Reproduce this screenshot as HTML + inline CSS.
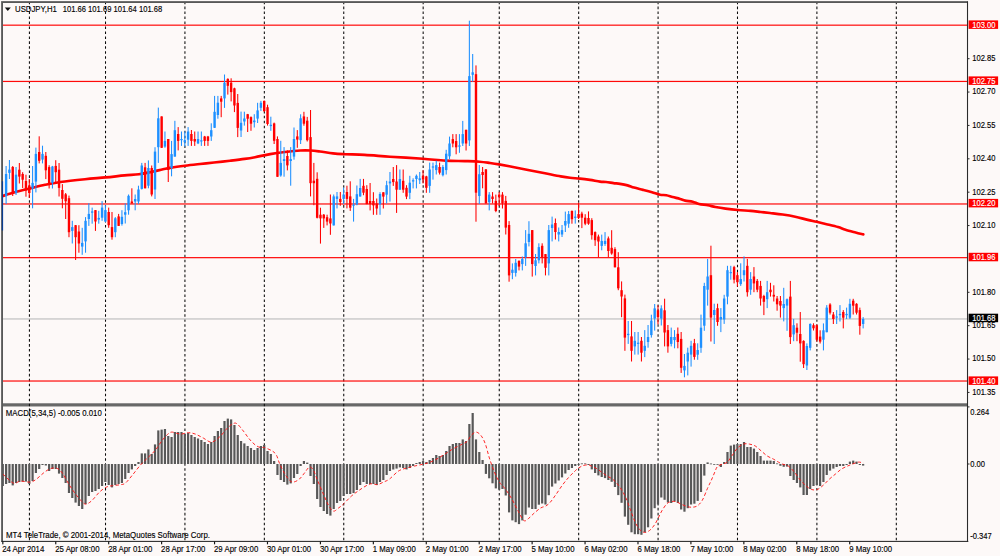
<!DOCTYPE html>
<html><head><meta charset="utf-8"><title>USDJPY,H1</title>
<style>html,body{margin:0;padding:0;background:#fdf9f8;}body{width:1000px;height:556px;overflow:hidden;}svg{display:block;}text{font-family:"Liberation Sans",sans-serif;font-size:7.6px;fill:#000;stroke:#000;stroke-width:0.12px;}</style></head><body>
<svg width="1000" height="556" viewBox="0 0 1000 556">
<rect x="0" y="0" width="1000" height="556" fill="#fdf9f8"/>
<rect x="1.6" y="403.15" width="966" height="3.45" fill="#868686"/>
<rect x="1.6" y="403.9" width="966" height="2.0" fill="#676767"/>
<g stroke="#0a0a0a" stroke-width="1.05" stroke-dasharray="2.55 2.413" stroke-dashoffset="1.06" fill="none">
<line x1="29.42" y1="2.7" x2="29.42" y2="540.5" />
<line x1="105.52" y1="2.7" x2="105.52" y2="540.5" />
<line x1="184.93" y1="2.7" x2="184.93" y2="540.5" />
<line x1="264.34" y1="2.7" x2="264.34" y2="540.5" />
<line x1="343.75" y1="2.7" x2="343.75" y2="540.5" />
<line x1="423.16" y1="2.7" x2="423.16" y2="540.5" />
<line x1="499.26" y1="2.7" x2="499.26" y2="540.5" />
<line x1="578.67" y1="2.7" x2="578.67" y2="540.5" />
<line x1="658.08" y1="2.7" x2="658.08" y2="540.5" />
<line x1="737.49" y1="2.7" x2="737.49" y2="540.5" />
<line x1="816.90" y1="2.7" x2="816.90" y2="540.5" />
<line x1="896.31" y1="2.7" x2="896.31" y2="540.5" />
</g>
<rect x="2" y="318.35" width="965.5" height="1.2" fill="#c0c0c0"/>
<rect x="2" y="24.57" width="965.5" height="1.2" fill="#ff0a0a"/>
<rect x="2" y="80.84" width="965.5" height="1.2" fill="#ff0a0a"/>
<rect x="2" y="203.37" width="965.5" height="1.2" fill="#ff0a0a"/>
<rect x="2" y="257.06" width="965.5" height="1.2" fill="#ff0a0a"/>
<rect x="2" y="380.42" width="965.5" height="1.2" fill="#ff0a0a"/>
<path d="M2.50 196.00 C4.58 195.38 10.38 193.57 15.00 192.30 C19.62 191.03 25.20 189.65 30.20 188.40 C35.20 187.15 39.97 185.87 45.00 184.80 C50.03 183.73 53.73 182.93 60.40 182.00 C67.07 181.07 77.45 179.97 85.00 179.20 C92.55 178.43 99.10 178.03 105.70 177.40 C112.30 176.77 119.05 175.93 124.60 175.40 C130.15 174.87 134.60 174.77 139.00 174.20 C143.40 173.63 147.00 172.82 151.00 172.00 C155.00 171.18 159.63 170.03 163.00 169.30 C166.37 168.57 167.53 168.20 171.20 167.60 C174.87 167.00 180.20 166.30 185.00 165.70 C189.80 165.10 195.17 164.53 200.00 164.00 C204.83 163.47 209.00 163.05 214.00 162.50 C219.00 161.95 224.90 161.30 230.00 160.70 C235.10 160.10 240.43 159.48 244.60 158.90 C248.77 158.32 250.73 158.00 255.00 157.20 C259.27 156.40 265.20 154.97 270.20 154.10 C275.20 153.23 279.97 152.60 285.00 152.00 C290.03 151.40 296.15 150.75 300.40 150.50 C304.65 150.25 307.23 150.33 310.50 150.50 C313.77 150.67 316.25 151.02 320.00 151.50 C323.75 151.98 328.83 152.95 333.00 153.40 C337.17 153.85 339.73 153.95 345.00 154.20 C350.27 154.45 357.10 154.48 364.60 154.90 C372.10 155.32 380.27 156.05 390.00 156.70 C399.73 157.35 413.73 158.15 423.00 158.80 C432.27 159.45 438.60 160.22 445.60 160.60 C452.60 160.98 459.33 160.92 465.00 161.10 C470.67 161.28 475.43 161.38 479.60 161.70 C483.77 162.02 486.77 162.55 490.00 163.00 C493.23 163.45 495.17 163.73 499.00 164.40 C502.83 165.07 508.17 166.07 513.00 167.00 C517.83 167.93 522.67 168.95 528.00 170.00 C533.33 171.05 539.55 172.23 545.00 173.30 C550.45 174.37 556.53 175.65 560.70 176.40 C564.87 177.15 566.78 177.43 570.00 177.80 C573.22 178.17 576.67 178.25 580.00 178.60 C583.33 178.95 586.67 179.40 590.00 179.90 C593.33 180.40 597.33 181.25 600.00 181.60 C602.67 181.95 603.75 181.75 606.00 182.00 C608.25 182.25 611.17 182.78 613.50 183.10 C615.83 183.42 617.67 183.52 620.00 183.90 C622.33 184.28 625.17 184.78 627.50 185.40 C629.83 186.02 631.42 186.85 634.00 187.60 C636.58 188.35 640.00 189.12 643.00 189.90 C646.00 190.68 649.17 191.50 652.00 192.30 C654.83 193.10 657.62 194.22 660.00 194.70 C662.38 195.18 664.20 194.82 666.30 195.20 C668.40 195.58 670.30 196.38 672.60 197.00 C674.90 197.62 678.00 198.30 680.10 198.90 C682.20 199.50 683.10 200.13 685.20 200.60 C687.30 201.07 690.40 201.13 692.70 201.70 C695.00 202.27 696.48 203.40 699.00 204.00 C701.52 204.60 705.07 204.80 707.80 205.30 C710.53 205.80 712.45 206.45 715.40 207.00 C718.35 207.55 721.73 208.10 725.50 208.60 C729.27 209.10 733.82 209.62 738.00 210.00 C742.18 210.38 746.82 210.57 750.60 210.90 C754.38 211.23 757.47 211.65 760.70 212.00 C763.93 212.35 766.35 212.58 770.00 213.00 C773.65 213.42 778.40 213.88 782.60 214.50 C786.80 215.12 791.00 215.80 795.20 216.70 C799.40 217.60 804.23 219.05 807.80 219.90 C811.37 220.75 813.47 221.08 816.60 221.80 C819.73 222.52 823.03 223.32 826.60 224.20 C830.17 225.08 834.85 226.17 838.00 227.10 C841.15 228.03 842.57 228.90 845.50 229.80 C848.43 230.70 852.63 231.73 855.60 232.50 C858.57 233.27 862.02 234.08 863.30 234.40" fill="none" stroke="#ff0000" stroke-width="2.65" stroke-linejoin="round" stroke-linecap="round"/>
<g>
<rect x="5.58" y="166.0" width="1.05" height="38.0" fill="#1e90ff"/>
<rect x="4.91" y="174.0" width="2.4" height="22.0" fill="#1e90ff"/>
<rect x="8.89" y="160.0" width="1.05" height="19.0" fill="#1e90ff"/>
<rect x="8.22" y="169.6" width="2.4" height="3.3" fill="#1e90ff"/>
<rect x="12.20" y="166.0" width="1.05" height="30.0" fill="#ff0000"/>
<rect x="11.53" y="167.0" width="2.4" height="27.0" fill="#ff0000"/>
<rect x="15.51" y="167.0" width="1.05" height="28.0" fill="#1e90ff"/>
<rect x="14.84" y="174.7" width="2.4" height="18.3" fill="#1e90ff"/>
<rect x="18.82" y="163.0" width="1.05" height="20.5" fill="#ff0000"/>
<rect x="18.15" y="169.7" width="2.4" height="6.9" fill="#ff0000"/>
<rect x="22.13" y="172.2" width="1.05" height="15.8" fill="#ff0000"/>
<rect x="21.45" y="174.0" width="2.4" height="5.7" fill="#ff0000"/>
<rect x="25.44" y="174.7" width="1.05" height="22.0" fill="#ff0000"/>
<rect x="24.76" y="181.0" width="2.4" height="9.4" fill="#ff0000"/>
<rect x="28.75" y="179.0" width="1.05" height="19.0" fill="#ff0000"/>
<rect x="28.07" y="185.4" width="2.4" height="7.6" fill="#ff0000"/>
<rect x="32.06" y="166.0" width="1.05" height="42.3" fill="#1e90ff"/>
<rect x="31.38" y="182.9" width="2.4" height="5.6" fill="#1e90ff"/>
<rect x="35.37" y="147.6" width="1.05" height="44.8" fill="#1e90ff"/>
<rect x="34.69" y="153.9" width="2.4" height="27.7" fill="#1e90ff"/>
<rect x="38.67" y="136.3" width="1.05" height="27.1" fill="#ff0000"/>
<rect x="38.00" y="152.0" width="2.4" height="8.8" fill="#ff0000"/>
<rect x="41.98" y="145.7" width="1.05" height="17.7" fill="#1e90ff"/>
<rect x="41.31" y="153.9" width="2.4" height="5.7" fill="#1e90ff"/>
<rect x="45.29" y="152.0" width="1.05" height="27.1" fill="#ff0000"/>
<rect x="44.62" y="155.8" width="2.4" height="14.5" fill="#ff0000"/>
<rect x="48.60" y="165.2" width="1.05" height="23.3" fill="#ff0000"/>
<rect x="47.93" y="167.1" width="2.4" height="17.0" fill="#ff0000"/>
<rect x="51.91" y="165.9" width="1.05" height="22.6" fill="#1e90ff"/>
<rect x="51.23" y="166.5" width="2.4" height="16.4" fill="#1e90ff"/>
<rect x="55.22" y="160.2" width="1.05" height="22.7" fill="#ff0000"/>
<rect x="54.54" y="165.9" width="2.4" height="6.3" fill="#ff0000"/>
<rect x="58.53" y="163.0" width="1.05" height="33.5" fill="#ff0000"/>
<rect x="57.85" y="169.7" width="2.4" height="18.2" fill="#ff0000"/>
<rect x="61.84" y="184.1" width="1.05" height="24.2" fill="#ff0000"/>
<rect x="61.16" y="190.0" width="2.4" height="8.8" fill="#ff0000"/>
<rect x="65.15" y="193.0" width="1.05" height="26.0" fill="#ff0000"/>
<rect x="64.47" y="194.3" width="2.4" height="7.0" fill="#ff0000"/>
<rect x="68.45" y="195.6" width="1.05" height="41.6" fill="#ff0000"/>
<rect x="67.78" y="198.2" width="2.4" height="34.0" fill="#ff0000"/>
<rect x="71.76" y="220.8" width="1.05" height="22.7" fill="#1e90ff"/>
<rect x="71.09" y="227.1" width="2.4" height="3.8" fill="#1e90ff"/>
<rect x="75.07" y="225.0" width="1.05" height="35.0" fill="#ff0000"/>
<rect x="74.40" y="225.2" width="2.4" height="12.0" fill="#ff0000"/>
<rect x="78.38" y="225.2" width="1.05" height="27.5" fill="#ff0000"/>
<rect x="77.71" y="231.5" width="2.4" height="12.0" fill="#ff0000"/>
<rect x="81.69" y="227.8" width="1.05" height="27.0" fill="#1e90ff"/>
<rect x="81.02" y="242.9" width="2.4" height="3.7" fill="#1e90ff"/>
<rect x="85.00" y="217.1" width="1.05" height="35.6" fill="#1e90ff"/>
<rect x="84.33" y="220.8" width="2.4" height="20.6" fill="#1e90ff"/>
<rect x="88.31" y="203.2" width="1.05" height="22.7" fill="#1e90ff"/>
<rect x="87.63" y="213.9" width="2.4" height="5.1" fill="#1e90ff"/>
<rect x="91.62" y="207.6" width="1.05" height="16.1" fill="#1e90ff"/>
<rect x="90.94" y="211.4" width="2.4" height="1.3" fill="#1e90ff"/>
<rect x="94.93" y="210.1" width="1.05" height="20.8" fill="#ff0000"/>
<rect x="94.25" y="210.1" width="2.4" height="11.4" fill="#ff0000"/>
<rect x="98.24" y="210.8" width="1.05" height="12.9" fill="#1e90ff"/>
<rect x="97.56" y="217.9" width="2.4" height="1.7" fill="#1e90ff"/>
<rect x="101.55" y="201.1" width="1.05" height="19.7" fill="#1e90ff"/>
<rect x="100.87" y="207.6" width="2.4" height="10.1" fill="#1e90ff"/>
<rect x="104.85" y="205.1" width="1.05" height="17.0" fill="#1e90ff"/>
<rect x="104.18" y="210.1" width="2.4" height="11.4" fill="#1e90ff"/>
<rect x="108.16" y="207.6" width="1.05" height="20.2" fill="#ff0000"/>
<rect x="107.49" y="212.0" width="2.4" height="13.2" fill="#ff0000"/>
<rect x="111.47" y="212.0" width="1.05" height="27.7" fill="#ff0000"/>
<rect x="110.80" y="227.1" width="2.4" height="10.1" fill="#ff0000"/>
<rect x="114.78" y="217.1" width="1.05" height="20.1" fill="#1e90ff"/>
<rect x="114.11" y="218.3" width="2.4" height="13.9" fill="#1e90ff"/>
<rect x="118.09" y="213.9" width="1.05" height="12.1" fill="#ff0000"/>
<rect x="117.42" y="216.4" width="2.4" height="9.5" fill="#ff0000"/>
<rect x="121.40" y="210.2" width="1.05" height="15.4" fill="#1e90ff"/>
<rect x="120.72" y="216.8" width="2.4" height="7.2" fill="#1e90ff"/>
<rect x="124.71" y="203.4" width="1.05" height="20.1" fill="#1e90ff"/>
<rect x="124.03" y="212.2" width="2.4" height="2.5" fill="#1e90ff"/>
<rect x="128.02" y="194.5" width="1.05" height="20.2" fill="#1e90ff"/>
<rect x="127.34" y="195.8" width="2.4" height="14.5" fill="#1e90ff"/>
<rect x="131.33" y="188.3" width="1.05" height="15.2" fill="#ff0000"/>
<rect x="130.65" y="201.5" width="2.4" height="1.9" fill="#ff0000"/>
<rect x="134.64" y="194.5" width="1.05" height="15.8" fill="#1e90ff"/>
<rect x="133.96" y="199.0" width="2.4" height="2.5" fill="#1e90ff"/>
<rect x="137.94" y="185.7" width="1.05" height="18.3" fill="#1e90ff"/>
<rect x="137.27" y="189.5" width="2.4" height="12.0" fill="#1e90ff"/>
<rect x="141.25" y="162.9" width="1.05" height="26.6" fill="#1e90ff"/>
<rect x="140.58" y="165.5" width="2.4" height="23.4" fill="#1e90ff"/>
<rect x="144.56" y="162.9" width="1.05" height="25.5" fill="#ff0000"/>
<rect x="143.89" y="167.3" width="2.4" height="21.0" fill="#ff0000"/>
<rect x="147.87" y="160.4" width="1.05" height="27.9" fill="#1e90ff"/>
<rect x="147.20" y="168.0" width="2.4" height="17.7" fill="#1e90ff"/>
<rect x="151.18" y="165.5" width="1.05" height="30.9" fill="#ff0000"/>
<rect x="150.51" y="168.0" width="2.4" height="26.5" fill="#ff0000"/>
<rect x="154.49" y="147.2" width="1.05" height="51.8" fill="#1e90ff"/>
<rect x="153.81" y="151.6" width="2.4" height="37.9" fill="#1e90ff"/>
<rect x="157.80" y="107.6" width="1.05" height="55.3" fill="#1e90ff"/>
<rect x="157.12" y="118.3" width="2.4" height="28.9" fill="#1e90ff"/>
<rect x="161.11" y="116.4" width="1.05" height="31.5" fill="#ff0000"/>
<rect x="160.43" y="116.4" width="2.4" height="31.4" fill="#ff0000"/>
<rect x="164.42" y="131.5" width="1.05" height="16.3" fill="#1e90ff"/>
<rect x="163.74" y="140.9" width="2.4" height="5.7" fill="#1e90ff"/>
<rect x="167.73" y="139.0" width="1.05" height="43.0" fill="#ff0000"/>
<rect x="167.05" y="139.0" width="2.4" height="31.0" fill="#ff0000"/>
<rect x="171.03" y="140.9" width="1.05" height="35.4" fill="#1e90ff"/>
<rect x="170.36" y="154.1" width="2.4" height="13.9" fill="#1e90ff"/>
<rect x="174.34" y="120.8" width="1.05" height="35.9" fill="#1e90ff"/>
<rect x="173.67" y="130.2" width="2.4" height="26.4" fill="#1e90ff"/>
<rect x="177.65" y="127.1" width="1.05" height="23.3" fill="#ff0000"/>
<rect x="176.98" y="134.0" width="2.4" height="6.9" fill="#ff0000"/>
<rect x="180.96" y="131.5" width="1.05" height="14.4" fill="#1e90ff"/>
<rect x="180.29" y="139.0" width="2.4" height="1.2" fill="#1e90ff"/>
<rect x="184.27" y="131.5" width="1.05" height="15.1" fill="#1e90ff"/>
<rect x="183.60" y="140.3" width="2.4" height="1.9" fill="#1e90ff"/>
<rect x="187.58" y="127.1" width="1.05" height="18.8" fill="#1e90ff"/>
<rect x="186.90" y="131.5" width="2.4" height="8.2" fill="#1e90ff"/>
<rect x="190.89" y="130.0" width="1.05" height="15.9" fill="#ff0000"/>
<rect x="190.21" y="134.0" width="2.4" height="6.9" fill="#ff0000"/>
<rect x="194.20" y="131.5" width="1.05" height="14.4" fill="#ff0000"/>
<rect x="193.52" y="139.0" width="2.4" height="2.5" fill="#ff0000"/>
<rect x="197.51" y="131.5" width="1.05" height="12.6" fill="#1e90ff"/>
<rect x="196.83" y="139.0" width="2.4" height="4.4" fill="#1e90ff"/>
<rect x="200.82" y="131.5" width="1.05" height="14.4" fill="#1e90ff"/>
<rect x="200.14" y="140.3" width="2.4" height="1.2" fill="#1e90ff"/>
<rect x="204.12" y="135.9" width="1.05" height="10.0" fill="#ff0000"/>
<rect x="203.45" y="136.5" width="2.4" height="4.4" fill="#ff0000"/>
<rect x="207.43" y="135.9" width="1.05" height="10.0" fill="#ff0000"/>
<rect x="206.76" y="136.5" width="2.4" height="4.4" fill="#ff0000"/>
<rect x="210.74" y="123.3" width="1.05" height="17.6" fill="#1e90ff"/>
<rect x="210.07" y="130.2" width="2.4" height="6.3" fill="#1e90ff"/>
<rect x="214.05" y="95.9" width="1.05" height="32.1" fill="#1e90ff"/>
<rect x="213.38" y="111.8" width="2.4" height="16.0" fill="#1e90ff"/>
<rect x="217.36" y="95.9" width="1.05" height="22.8" fill="#1e90ff"/>
<rect x="216.69" y="102.7" width="2.4" height="12.3" fill="#1e90ff"/>
<rect x="220.67" y="95.9" width="1.05" height="21.3" fill="#ff0000"/>
<rect x="219.99" y="98.4" width="2.4" height="3.3" fill="#ff0000"/>
<rect x="223.98" y="74.5" width="1.05" height="33.4" fill="#1e90ff"/>
<rect x="223.30" y="82.7" width="2.4" height="15.7" fill="#1e90ff"/>
<rect x="227.29" y="78.3" width="1.05" height="16.3" fill="#ff0000"/>
<rect x="226.61" y="78.9" width="2.4" height="6.9" fill="#ff0000"/>
<rect x="230.60" y="78.3" width="1.05" height="23.1" fill="#ff0000"/>
<rect x="229.92" y="82.7" width="2.4" height="9.4" fill="#ff0000"/>
<rect x="233.91" y="87.7" width="1.05" height="24.4" fill="#ff0000"/>
<rect x="233.23" y="88.3" width="2.4" height="17.2" fill="#ff0000"/>
<rect x="237.21" y="94.0" width="1.05" height="43.1" fill="#ff0000"/>
<rect x="236.54" y="102.9" width="2.4" height="25.0" fill="#ff0000"/>
<rect x="240.52" y="111.6" width="1.05" height="25.4" fill="#1e90ff"/>
<rect x="239.85" y="122.8" width="2.4" height="7.7" fill="#1e90ff"/>
<rect x="243.83" y="111.7" width="1.05" height="13.9" fill="#1e90ff"/>
<rect x="243.16" y="118.5" width="2.4" height="3.0" fill="#1e90ff"/>
<rect x="247.14" y="113.9" width="1.05" height="18.1" fill="#ff0000"/>
<rect x="246.47" y="114.2" width="2.4" height="4.5" fill="#ff0000"/>
<rect x="250.45" y="116.4" width="1.05" height="14.4" fill="#ff0000"/>
<rect x="249.78" y="117.1" width="2.4" height="6.6" fill="#ff0000"/>
<rect x="253.76" y="114.2" width="1.05" height="13.3" fill="#1e90ff"/>
<rect x="253.08" y="120.5" width="2.4" height="1.7" fill="#1e90ff"/>
<rect x="257.07" y="102.8" width="1.05" height="20.2" fill="#1e90ff"/>
<rect x="256.39" y="110.4" width="2.4" height="8.2" fill="#1e90ff"/>
<rect x="260.38" y="100.9" width="1.05" height="10.0" fill="#1e90ff"/>
<rect x="259.70" y="102.8" width="2.4" height="5.0" fill="#1e90ff"/>
<rect x="263.69" y="100.5" width="1.05" height="11.5" fill="#ff0000"/>
<rect x="263.01" y="100.9" width="2.4" height="10.1" fill="#ff0000"/>
<rect x="267.00" y="104.7" width="1.05" height="20.9" fill="#ff0000"/>
<rect x="266.32" y="107.2" width="2.4" height="16.8" fill="#ff0000"/>
<rect x="270.30" y="116.7" width="1.05" height="14.1" fill="#1e90ff"/>
<rect x="269.63" y="124.8" width="2.4" height="1.3" fill="#1e90ff"/>
<rect x="273.61" y="122.6" width="1.05" height="21.4" fill="#ff0000"/>
<rect x="272.94" y="123.4" width="2.4" height="17.4" fill="#ff0000"/>
<rect x="276.92" y="136.4" width="1.05" height="40.5" fill="#ff0000"/>
<rect x="276.25" y="139.0" width="2.4" height="37.8" fill="#ff0000"/>
<rect x="280.23" y="140.8" width="1.05" height="35.9" fill="#1e90ff"/>
<rect x="279.56" y="162.9" width="2.4" height="12.6" fill="#1e90ff"/>
<rect x="283.54" y="147.1" width="1.05" height="29.6" fill="#1e90ff"/>
<rect x="282.87" y="159.1" width="2.4" height="1.9" fill="#1e90ff"/>
<rect x="286.85" y="150.3" width="1.05" height="20.1" fill="#ff0000"/>
<rect x="286.17" y="156.0" width="2.4" height="9.4" fill="#ff0000"/>
<rect x="290.16" y="147.1" width="1.05" height="38.6" fill="#1e90ff"/>
<rect x="289.48" y="159.1" width="2.4" height="1.9" fill="#1e90ff"/>
<rect x="293.47" y="127.5" width="1.05" height="32.2" fill="#1e90ff"/>
<rect x="292.79" y="139.0" width="2.4" height="17.6" fill="#1e90ff"/>
<rect x="296.78" y="130.1" width="1.05" height="17.7" fill="#ff0000"/>
<rect x="296.10" y="136.4" width="2.4" height="3.2" fill="#ff0000"/>
<rect x="300.09" y="114.3" width="1.05" height="29.7" fill="#1e90ff"/>
<rect x="299.41" y="118.3" width="2.4" height="21.9" fill="#1e90ff"/>
<rect x="303.39" y="111.8" width="1.05" height="13.9" fill="#ff0000"/>
<rect x="302.72" y="116.4" width="2.4" height="7.3" fill="#ff0000"/>
<rect x="306.70" y="116.9" width="1.05" height="24.6" fill="#ff0000"/>
<rect x="306.03" y="120.7" width="2.4" height="19.5" fill="#ff0000"/>
<rect x="310.01" y="110.0" width="1.05" height="86.4" fill="#ff0000"/>
<rect x="309.34" y="137.1" width="2.4" height="46.1" fill="#ff0000"/>
<rect x="313.32" y="162.9" width="1.05" height="42.3" fill="#ff0000"/>
<rect x="312.65" y="180.7" width="2.4" height="2.5" fill="#ff0000"/>
<rect x="316.63" y="172.3" width="1.05" height="46.1" fill="#ff0000"/>
<rect x="315.96" y="178.8" width="2.4" height="39.0" fill="#ff0000"/>
<rect x="319.94" y="207.7" width="1.05" height="35.9" fill="#ff0000"/>
<rect x="319.26" y="214.7" width="2.4" height="3.7" fill="#ff0000"/>
<rect x="323.25" y="214.0" width="1.05" height="13.9" fill="#ff0000"/>
<rect x="322.57" y="214.7" width="2.4" height="3.7" fill="#ff0000"/>
<rect x="326.56" y="214.7" width="1.05" height="10.7" fill="#ff0000"/>
<rect x="325.88" y="217.2" width="2.4" height="4.4" fill="#ff0000"/>
<rect x="329.87" y="194.5" width="1.05" height="40.3" fill="#ff0000"/>
<rect x="329.19" y="218.4" width="2.4" height="5.1" fill="#ff0000"/>
<rect x="333.18" y="194.5" width="1.05" height="31.0" fill="#1e90ff"/>
<rect x="332.50" y="196.4" width="2.4" height="29.0" fill="#1e90ff"/>
<rect x="336.48" y="192.0" width="1.05" height="16.4" fill="#1e90ff"/>
<rect x="335.81" y="196.4" width="2.4" height="2.5" fill="#1e90ff"/>
<rect x="339.79" y="192.0" width="1.05" height="13.8" fill="#ff0000"/>
<rect x="339.12" y="198.9" width="2.4" height="3.2" fill="#ff0000"/>
<rect x="343.10" y="187.6" width="1.05" height="16.4" fill="#1e90ff"/>
<rect x="342.43" y="194.5" width="2.4" height="4.4" fill="#1e90ff"/>
<rect x="346.41" y="185.7" width="1.05" height="22.7" fill="#ff0000"/>
<rect x="345.74" y="192.0" width="2.4" height="6.9" fill="#ff0000"/>
<rect x="349.72" y="181.3" width="1.05" height="29.6" fill="#ff0000"/>
<rect x="349.05" y="196.4" width="2.4" height="11.3" fill="#ff0000"/>
<rect x="353.03" y="198.9" width="1.05" height="22.7" fill="#1e90ff"/>
<rect x="352.35" y="204.6" width="2.4" height="1.2" fill="#1e90ff"/>
<rect x="356.34" y="185.5" width="1.05" height="19.8" fill="#1e90ff"/>
<rect x="355.66" y="194.2" width="2.4" height="10.4" fill="#1e90ff"/>
<rect x="359.65" y="178.9" width="1.05" height="17.7" fill="#1e90ff"/>
<rect x="358.97" y="188.0" width="2.4" height="8.5" fill="#1e90ff"/>
<rect x="362.96" y="178.9" width="1.05" height="16.3" fill="#ff0000"/>
<rect x="362.28" y="185.8" width="2.4" height="6.9" fill="#ff0000"/>
<rect x="366.27" y="185.2" width="1.05" height="19.0" fill="#ff0000"/>
<rect x="365.59" y="189.0" width="2.4" height="15.1" fill="#ff0000"/>
<rect x="369.57" y="183.0" width="1.05" height="27.4" fill="#ff0000"/>
<rect x="368.90" y="201.0" width="2.4" height="3.1" fill="#ff0000"/>
<rect x="372.88" y="192.2" width="1.05" height="22.6" fill="#ff0000"/>
<rect x="372.21" y="201.0" width="2.4" height="4.4" fill="#ff0000"/>
<rect x="376.19" y="198.5" width="1.05" height="16.3" fill="#ff0000"/>
<rect x="375.52" y="203.5" width="2.4" height="5.0" fill="#ff0000"/>
<rect x="379.50" y="192.2" width="1.05" height="22.6" fill="#1e90ff"/>
<rect x="378.83" y="194.0" width="2.4" height="10.1" fill="#1e90ff"/>
<rect x="382.81" y="192.2" width="1.05" height="16.3" fill="#ff0000"/>
<rect x="382.14" y="192.3" width="2.4" height="4.3" fill="#ff0000"/>
<rect x="386.12" y="180.8" width="1.05" height="22.7" fill="#1e90ff"/>
<rect x="385.44" y="185.2" width="2.4" height="9.5" fill="#1e90ff"/>
<rect x="389.43" y="172.0" width="1.05" height="29.6" fill="#1e90ff"/>
<rect x="388.75" y="181.5" width="2.4" height="1.9" fill="#1e90ff"/>
<rect x="392.74" y="167.0" width="1.05" height="18.9" fill="#ff0000"/>
<rect x="392.06" y="179.0" width="2.4" height="3.1" fill="#ff0000"/>
<rect x="396.05" y="165.1" width="1.05" height="47.8" fill="#ff0000"/>
<rect x="395.37" y="181.5" width="2.4" height="8.2" fill="#ff0000"/>
<rect x="399.36" y="169.5" width="1.05" height="20.3" fill="#1e90ff"/>
<rect x="398.68" y="179.0" width="2.4" height="10.7" fill="#1e90ff"/>
<rect x="402.66" y="169.5" width="1.05" height="23.3" fill="#ff0000"/>
<rect x="401.99" y="180.8" width="2.4" height="8.9" fill="#ff0000"/>
<rect x="405.97" y="185.2" width="1.05" height="13.9" fill="#ff0000"/>
<rect x="405.30" y="187.8" width="2.4" height="8.8" fill="#ff0000"/>
<rect x="409.28" y="175.8" width="1.05" height="23.3" fill="#1e90ff"/>
<rect x="408.61" y="182.7" width="2.4" height="10.1" fill="#1e90ff"/>
<rect x="412.59" y="178.3" width="1.05" height="10.1" fill="#1e90ff"/>
<rect x="411.92" y="180.2" width="2.4" height="1.3" fill="#1e90ff"/>
<rect x="415.90" y="174.5" width="1.05" height="13.9" fill="#1e90ff"/>
<rect x="415.23" y="175.8" width="2.4" height="3.2" fill="#1e90ff"/>
<rect x="419.21" y="172.0" width="1.05" height="12.0" fill="#1e90ff"/>
<rect x="418.53" y="178.3" width="2.4" height="1.9" fill="#1e90ff"/>
<rect x="422.52" y="170.1" width="1.05" height="13.3" fill="#ff0000"/>
<rect x="421.84" y="175.8" width="2.4" height="3.8" fill="#ff0000"/>
<rect x="425.83" y="175.8" width="1.05" height="17.0" fill="#ff0000"/>
<rect x="425.15" y="176.4" width="2.4" height="11.4" fill="#ff0000"/>
<rect x="429.14" y="162.6" width="1.05" height="30.2" fill="#1e90ff"/>
<rect x="428.46" y="169.5" width="2.4" height="16.4" fill="#1e90ff"/>
<rect x="432.45" y="162.6" width="1.05" height="17.0" fill="#1e90ff"/>
<rect x="431.77" y="166.4" width="2.4" height="1.2" fill="#1e90ff"/>
<rect x="435.75" y="160.7" width="1.05" height="13.8" fill="#1e90ff"/>
<rect x="435.08" y="165.1" width="2.4" height="5.0" fill="#1e90ff"/>
<rect x="439.06" y="162.6" width="1.05" height="11.9" fill="#ff0000"/>
<rect x="438.39" y="167.0" width="2.4" height="5.7" fill="#ff0000"/>
<rect x="442.37" y="165.1" width="1.05" height="11.3" fill="#1e90ff"/>
<rect x="441.70" y="167.0" width="2.4" height="8.2" fill="#1e90ff"/>
<rect x="445.68" y="149.8" width="1.05" height="24.7" fill="#1e90ff"/>
<rect x="445.01" y="153.7" width="2.4" height="16.4" fill="#1e90ff"/>
<rect x="448.99" y="136.6" width="1.05" height="22.8" fill="#1e90ff"/>
<rect x="448.32" y="143.5" width="2.4" height="12.8" fill="#1e90ff"/>
<rect x="452.30" y="134.1" width="1.05" height="13.2" fill="#ff0000"/>
<rect x="451.62" y="139.1" width="2.4" height="4.4" fill="#ff0000"/>
<rect x="455.61" y="134.1" width="1.05" height="20.2" fill="#ff0000"/>
<rect x="454.93" y="141.0" width="2.4" height="6.3" fill="#ff0000"/>
<rect x="458.92" y="134.1" width="1.05" height="18.7" fill="#1e90ff"/>
<rect x="458.24" y="145.4" width="2.4" height="1.3" fill="#1e90ff"/>
<rect x="462.23" y="120.9" width="1.05" height="25.1" fill="#1e90ff"/>
<rect x="461.55" y="134.1" width="2.4" height="9.4" fill="#1e90ff"/>
<rect x="465.54" y="129.7" width="1.05" height="20.8" fill="#ff0000"/>
<rect x="464.86" y="129.8" width="2.4" height="13.7" fill="#ff0000"/>
<rect x="468.84" y="20.7" width="1.05" height="125.3" fill="#1e90ff"/>
<rect x="468.17" y="76.1" width="2.4" height="64.3" fill="#1e90ff"/>
<rect x="472.15" y="54.0" width="1.05" height="27.7" fill="#1e90ff"/>
<rect x="471.48" y="72.3" width="2.4" height="2.5" fill="#1e90ff"/>
<rect x="475.46" y="65.4" width="1.05" height="156.3" fill="#ff0000"/>
<rect x="474.79" y="74.2" width="2.4" height="118.5" fill="#ff0000"/>
<rect x="478.77" y="165.0" width="1.05" height="39.0" fill="#1e90ff"/>
<rect x="478.10" y="174.2" width="2.4" height="21.8" fill="#1e90ff"/>
<rect x="482.08" y="167.0" width="1.05" height="21.3" fill="#ff0000"/>
<rect x="481.41" y="172.0" width="2.4" height="3.0" fill="#ff0000"/>
<rect x="485.39" y="169.0" width="1.05" height="34.5" fill="#ff0000"/>
<rect x="484.71" y="169.4" width="2.4" height="34.0" fill="#ff0000"/>
<rect x="488.70" y="192.1" width="1.05" height="18.3" fill="#1e90ff"/>
<rect x="488.02" y="194.6" width="2.4" height="7.6" fill="#1e90ff"/>
<rect x="492.01" y="192.1" width="1.05" height="11.3" fill="#ff0000"/>
<rect x="491.33" y="196.5" width="2.4" height="2.5" fill="#ff0000"/>
<rect x="495.32" y="194.6" width="1.05" height="17.6" fill="#ff0000"/>
<rect x="494.64" y="200.9" width="2.4" height="10.1" fill="#ff0000"/>
<rect x="498.63" y="192.1" width="1.05" height="13.9" fill="#ff0000"/>
<rect x="497.95" y="194.6" width="2.4" height="2.5" fill="#ff0000"/>
<rect x="501.93" y="192.1" width="1.05" height="16.4" fill="#ff0000"/>
<rect x="501.26" y="194.6" width="2.4" height="8.8" fill="#ff0000"/>
<rect x="505.24" y="195.9" width="1.05" height="38.6" fill="#ff0000"/>
<rect x="504.57" y="200.9" width="2.4" height="26.7" fill="#ff0000"/>
<rect x="508.55" y="221.1" width="1.05" height="60.6" fill="#ff0000"/>
<rect x="507.88" y="225.0" width="2.4" height="50.4" fill="#ff0000"/>
<rect x="511.86" y="263.4" width="1.05" height="15.8" fill="#1e90ff"/>
<rect x="511.19" y="269.7" width="2.4" height="3.2" fill="#1e90ff"/>
<rect x="515.17" y="259.0" width="1.05" height="17.6" fill="#1e90ff"/>
<rect x="514.49" y="262.8" width="2.4" height="10.1" fill="#1e90ff"/>
<rect x="518.48" y="260.3" width="1.05" height="10.1" fill="#ff0000"/>
<rect x="517.80" y="260.9" width="2.4" height="5.7" fill="#ff0000"/>
<rect x="521.79" y="256.5" width="1.05" height="13.9" fill="#1e90ff"/>
<rect x="521.11" y="259.0" width="2.4" height="5.1" fill="#1e90ff"/>
<rect x="525.10" y="230.1" width="1.05" height="35.8" fill="#1e90ff"/>
<rect x="524.42" y="243.3" width="2.4" height="13.8" fill="#1e90ff"/>
<rect x="528.41" y="221.2" width="1.05" height="25.2" fill="#1e90ff"/>
<rect x="527.73" y="233.8" width="2.4" height="8.2" fill="#1e90ff"/>
<rect x="531.72" y="230.0" width="1.05" height="46.6" fill="#ff0000"/>
<rect x="531.04" y="230.1" width="2.4" height="34.0" fill="#ff0000"/>
<rect x="535.02" y="254.0" width="1.05" height="21.4" fill="#1e90ff"/>
<rect x="534.35" y="260.3" width="2.4" height="5.7" fill="#1e90ff"/>
<rect x="538.33" y="243.3" width="1.05" height="20.1" fill="#1e90ff"/>
<rect x="537.66" y="247.1" width="2.4" height="13.2" fill="#1e90ff"/>
<rect x="541.64" y="243.3" width="1.05" height="20.1" fill="#ff0000"/>
<rect x="540.97" y="245.8" width="2.4" height="11.3" fill="#ff0000"/>
<rect x="544.95" y="254.0" width="1.05" height="21.4" fill="#ff0000"/>
<rect x="544.28" y="254.1" width="2.4" height="13.7" fill="#ff0000"/>
<rect x="548.26" y="225.0" width="1.05" height="50.4" fill="#1e90ff"/>
<rect x="547.58" y="230.1" width="2.4" height="33.3" fill="#1e90ff"/>
<rect x="551.57" y="216.6" width="1.05" height="24.8" fill="#1e90ff"/>
<rect x="550.89" y="224.5" width="2.4" height="3.5" fill="#1e90ff"/>
<rect x="554.88" y="218.5" width="1.05" height="21.0" fill="#ff0000"/>
<rect x="554.20" y="223.0" width="2.4" height="9.0" fill="#ff0000"/>
<rect x="558.19" y="227.5" width="1.05" height="13.9" fill="#1e90ff"/>
<rect x="557.51" y="232.0" width="2.4" height="2.5" fill="#1e90ff"/>
<rect x="561.50" y="225.0" width="1.05" height="12.0" fill="#1e90ff"/>
<rect x="560.82" y="230.1" width="2.4" height="4.4" fill="#1e90ff"/>
<rect x="564.80" y="211.6" width="1.05" height="20.4" fill="#1e90ff"/>
<rect x="564.13" y="221.0" width="2.4" height="4.5" fill="#1e90ff"/>
<rect x="568.11" y="211.0" width="1.05" height="16.8" fill="#1e90ff"/>
<rect x="567.44" y="214.1" width="2.4" height="9.6" fill="#1e90ff"/>
<rect x="571.42" y="210.4" width="1.05" height="13.3" fill="#ff0000"/>
<rect x="570.75" y="211.0" width="2.4" height="8.2" fill="#ff0000"/>
<rect x="574.73" y="210.4" width="1.05" height="13.2" fill="#1e90ff"/>
<rect x="574.06" y="216.6" width="2.4" height="1.3" fill="#1e90ff"/>
<rect x="578.04" y="202.8" width="1.05" height="16.2" fill="#ff0000"/>
<rect x="577.37" y="214.1" width="2.4" height="3.8" fill="#ff0000"/>
<rect x="581.35" y="211.7" width="1.05" height="16.4" fill="#ff0000"/>
<rect x="580.67" y="213.6" width="2.4" height="4.1" fill="#ff0000"/>
<rect x="584.66" y="214.2" width="1.05" height="11.0" fill="#ff0000"/>
<rect x="583.98" y="217.7" width="2.4" height="6.0" fill="#ff0000"/>
<rect x="587.97" y="211.4" width="1.05" height="13.4" fill="#ff0000"/>
<rect x="587.29" y="218.0" width="2.4" height="5.7" fill="#ff0000"/>
<rect x="591.28" y="218.2" width="1.05" height="21.4" fill="#ff0000"/>
<rect x="590.60" y="220.1" width="2.4" height="15.1" fill="#ff0000"/>
<rect x="594.59" y="231.4" width="1.05" height="14.5" fill="#ff0000"/>
<rect x="593.91" y="232.1" width="2.4" height="8.1" fill="#ff0000"/>
<rect x="597.89" y="234.6" width="1.05" height="22.6" fill="#ff0000"/>
<rect x="597.22" y="236.5" width="2.4" height="5.0" fill="#ff0000"/>
<rect x="601.20" y="234.6" width="1.05" height="15.7" fill="#1e90ff"/>
<rect x="600.53" y="240.9" width="2.4" height="5.0" fill="#1e90ff"/>
<rect x="604.51" y="232.1" width="1.05" height="13.8" fill="#1e90ff"/>
<rect x="603.84" y="240.9" width="2.4" height="3.1" fill="#1e90ff"/>
<rect x="607.82" y="236.5" width="1.05" height="20.7" fill="#ff0000"/>
<rect x="607.15" y="238.4" width="2.4" height="12.6" fill="#ff0000"/>
<rect x="611.13" y="230.2" width="1.05" height="24.5" fill="#ff0000"/>
<rect x="610.46" y="247.8" width="2.4" height="5.7" fill="#ff0000"/>
<rect x="614.44" y="247.2" width="1.05" height="20.2" fill="#ff0000"/>
<rect x="613.76" y="249.1" width="2.4" height="18.2" fill="#ff0000"/>
<rect x="617.75" y="252.2" width="1.05" height="38.0" fill="#ff0000"/>
<rect x="617.07" y="267.3" width="2.4" height="21.0" fill="#ff0000"/>
<rect x="621.06" y="281.4" width="1.05" height="35.8" fill="#ff0000"/>
<rect x="620.38" y="290.2" width="2.4" height="6.3" fill="#ff0000"/>
<rect x="624.37" y="294.6" width="1.05" height="56.2" fill="#ff0000"/>
<rect x="623.69" y="298.4" width="2.4" height="39.2" fill="#ff0000"/>
<rect x="627.68" y="321.0" width="1.05" height="22.9" fill="#1e90ff"/>
<rect x="627.00" y="333.8" width="2.4" height="1.3" fill="#1e90ff"/>
<rect x="630.99" y="321.0" width="1.05" height="40.5" fill="#ff0000"/>
<rect x="630.31" y="336.4" width="2.4" height="14.4" fill="#ff0000"/>
<rect x="634.29" y="332.0" width="1.05" height="22.6" fill="#1e90ff"/>
<rect x="633.62" y="340.8" width="2.4" height="5.6" fill="#1e90ff"/>
<rect x="637.60" y="332.0" width="1.05" height="22.6" fill="#1e90ff"/>
<rect x="636.93" y="342.7" width="2.4" height="1.2" fill="#1e90ff"/>
<rect x="640.91" y="337.0" width="1.05" height="24.5" fill="#ff0000"/>
<rect x="640.24" y="340.8" width="2.4" height="11.9" fill="#ff0000"/>
<rect x="644.22" y="330.1" width="1.05" height="27.0" fill="#1e90ff"/>
<rect x="643.55" y="345.8" width="2.4" height="5.0" fill="#1e90ff"/>
<rect x="647.53" y="325.0" width="1.05" height="22.7" fill="#1e90ff"/>
<rect x="646.85" y="337.0" width="2.4" height="5.0" fill="#1e90ff"/>
<rect x="650.84" y="314.7" width="1.05" height="22.9" fill="#1e90ff"/>
<rect x="650.16" y="320.6" width="2.4" height="14.5" fill="#1e90ff"/>
<rect x="654.15" y="304.0" width="1.05" height="26.6" fill="#1e90ff"/>
<rect x="653.47" y="308.4" width="2.4" height="10.1" fill="#1e90ff"/>
<rect x="657.46" y="305.3" width="1.05" height="19.0" fill="#ff0000"/>
<rect x="656.78" y="310.3" width="2.4" height="6.9" fill="#ff0000"/>
<rect x="660.77" y="305.3" width="1.05" height="20.2" fill="#1e90ff"/>
<rect x="660.09" y="308.4" width="2.4" height="10.1" fill="#1e90ff"/>
<rect x="664.08" y="298.7" width="1.05" height="47.7" fill="#ff0000"/>
<rect x="663.40" y="310.3" width="2.4" height="22.2" fill="#ff0000"/>
<rect x="667.38" y="325.0" width="1.05" height="27.7" fill="#ff0000"/>
<rect x="666.71" y="330.1" width="2.4" height="16.3" fill="#ff0000"/>
<rect x="670.69" y="327.6" width="1.05" height="18.8" fill="#1e90ff"/>
<rect x="670.02" y="337.0" width="2.4" height="6.9" fill="#1e90ff"/>
<rect x="674.00" y="330.1" width="1.05" height="18.2" fill="#1e90ff"/>
<rect x="673.33" y="337.0" width="2.4" height="3.1" fill="#1e90ff"/>
<rect x="677.31" y="327.5" width="1.05" height="20.8" fill="#ff0000"/>
<rect x="676.64" y="333.8" width="2.4" height="8.2" fill="#ff0000"/>
<rect x="680.62" y="332.0" width="1.05" height="40.9" fill="#ff0000"/>
<rect x="679.94" y="338.9" width="2.4" height="28.9" fill="#ff0000"/>
<rect x="683.93" y="354.0" width="1.05" height="23.3" fill="#1e90ff"/>
<rect x="683.25" y="365.9" width="2.4" height="4.5" fill="#1e90ff"/>
<rect x="687.24" y="347.7" width="1.05" height="27.7" fill="#1e90ff"/>
<rect x="686.56" y="352.7" width="2.4" height="8.8" fill="#1e90ff"/>
<rect x="690.55" y="340.8" width="1.05" height="25.8" fill="#1e90ff"/>
<rect x="689.87" y="345.8" width="2.4" height="8.8" fill="#1e90ff"/>
<rect x="693.86" y="338.9" width="1.05" height="20.8" fill="#ff0000"/>
<rect x="693.18" y="343.2" width="2.4" height="13.7" fill="#ff0000"/>
<rect x="697.16" y="343.3" width="1.05" height="16.5" fill="#1e90ff"/>
<rect x="696.49" y="350.0" width="2.4" height="4.7" fill="#1e90ff"/>
<rect x="700.47" y="314.6" width="1.05" height="38.2" fill="#1e90ff"/>
<rect x="699.80" y="327.7" width="2.4" height="20.1" fill="#1e90ff"/>
<rect x="703.78" y="282.8" width="1.05" height="48.0" fill="#1e90ff"/>
<rect x="703.11" y="286.0" width="2.4" height="39.7" fill="#1e90ff"/>
<rect x="707.09" y="258.9" width="1.05" height="46.7" fill="#1e90ff"/>
<rect x="706.42" y="276.5" width="2.4" height="13.2" fill="#1e90ff"/>
<rect x="710.40" y="245.7" width="1.05" height="95.8" fill="#ff0000"/>
<rect x="709.73" y="275.2" width="2.4" height="42.4" fill="#ff0000"/>
<rect x="713.71" y="303.7" width="1.05" height="40.3" fill="#1e90ff"/>
<rect x="713.03" y="310.0" width="2.4" height="5.0" fill="#1e90ff"/>
<rect x="717.02" y="303.7" width="1.05" height="22.1" fill="#ff0000"/>
<rect x="716.34" y="308.2" width="2.4" height="13.8" fill="#ff0000"/>
<rect x="720.33" y="308.1" width="1.05" height="24.0" fill="#1e90ff"/>
<rect x="719.65" y="317.0" width="2.4" height="2.5" fill="#1e90ff"/>
<rect x="723.64" y="294.8" width="1.05" height="29.1" fill="#1e90ff"/>
<rect x="722.96" y="298.5" width="2.4" height="21.0" fill="#1e90ff"/>
<rect x="726.95" y="265.8" width="1.05" height="38.5" fill="#1e90ff"/>
<rect x="726.27" y="270.2" width="2.4" height="26.4" fill="#1e90ff"/>
<rect x="730.25" y="265.8" width="1.05" height="13.9" fill="#1e90ff"/>
<rect x="729.58" y="272.1" width="2.4" height="1.1" fill="#1e90ff"/>
<rect x="733.56" y="265.8" width="1.05" height="17.6" fill="#ff0000"/>
<rect x="732.89" y="267.1" width="2.4" height="12.6" fill="#ff0000"/>
<rect x="736.87" y="272.1" width="1.05" height="14.5" fill="#ff0000"/>
<rect x="736.20" y="275.2" width="2.4" height="7.0" fill="#ff0000"/>
<rect x="740.18" y="263.3" width="1.05" height="22.6" fill="#1e90ff"/>
<rect x="739.51" y="279.0" width="2.4" height="5.1" fill="#1e90ff"/>
<rect x="743.49" y="256.4" width="1.05" height="25.1" fill="#1e90ff"/>
<rect x="742.82" y="270.2" width="2.4" height="5.0" fill="#1e90ff"/>
<rect x="746.80" y="258.9" width="1.05" height="37.7" fill="#ff0000"/>
<rect x="746.12" y="265.8" width="2.4" height="26.4" fill="#ff0000"/>
<rect x="750.11" y="272.1" width="1.05" height="22.7" fill="#1e90ff"/>
<rect x="749.43" y="279.0" width="2.4" height="10.7" fill="#1e90ff"/>
<rect x="753.42" y="267.1" width="1.05" height="25.1" fill="#ff0000"/>
<rect x="752.74" y="276.5" width="2.4" height="6.9" fill="#ff0000"/>
<rect x="756.73" y="279.0" width="1.05" height="13.2" fill="#ff0000"/>
<rect x="756.05" y="280.9" width="2.4" height="8.8" fill="#ff0000"/>
<rect x="760.04" y="280.9" width="1.05" height="24.7" fill="#ff0000"/>
<rect x="759.36" y="285.9" width="2.4" height="12.6" fill="#ff0000"/>
<rect x="763.35" y="294.8" width="1.05" height="20.3" fill="#ff0000"/>
<rect x="762.67" y="296.0" width="2.4" height="5.8" fill="#ff0000"/>
<rect x="766.65" y="280.9" width="1.05" height="27.2" fill="#1e90ff"/>
<rect x="765.98" y="292.2" width="2.4" height="7.0" fill="#1e90ff"/>
<rect x="769.96" y="282.8" width="1.05" height="13.8" fill="#ff0000"/>
<rect x="769.29" y="289.7" width="2.4" height="2.5" fill="#ff0000"/>
<rect x="773.27" y="285.3" width="1.05" height="16.2" fill="#ff0000"/>
<rect x="772.60" y="294.8" width="2.4" height="1.8" fill="#ff0000"/>
<rect x="776.58" y="296.0" width="1.05" height="14.7" fill="#ff0000"/>
<rect x="775.91" y="298.5" width="2.4" height="5.8" fill="#ff0000"/>
<rect x="779.89" y="296.0" width="1.05" height="21.6" fill="#ff0000"/>
<rect x="779.21" y="301.0" width="2.4" height="4.6" fill="#ff0000"/>
<rect x="783.20" y="287.8" width="1.05" height="33.6" fill="#1e90ff"/>
<rect x="782.52" y="304.0" width="2.4" height="4.1" fill="#1e90ff"/>
<rect x="786.51" y="298.5" width="1.05" height="32.3" fill="#1e90ff"/>
<rect x="785.83" y="299.2" width="2.4" height="6.4" fill="#1e90ff"/>
<rect x="789.82" y="280.9" width="1.05" height="63.1" fill="#ff0000"/>
<rect x="789.14" y="296.6" width="2.4" height="40.5" fill="#ff0000"/>
<rect x="793.13" y="318.9" width="1.05" height="22.3" fill="#1e90ff"/>
<rect x="792.45" y="325.2" width="2.4" height="9.2" fill="#1e90ff"/>
<rect x="796.44" y="323.3" width="1.05" height="17.9" fill="#ff0000"/>
<rect x="795.76" y="327.7" width="2.4" height="5.0" fill="#ff0000"/>
<rect x="799.74" y="312.0" width="1.05" height="49.7" fill="#ff0000"/>
<rect x="799.07" y="334.0" width="2.4" height="9.4" fill="#ff0000"/>
<rect x="803.05" y="340.3" width="1.05" height="27.7" fill="#ff0000"/>
<rect x="802.38" y="340.9" width="2.4" height="23.3" fill="#ff0000"/>
<rect x="806.36" y="343.4" width="1.05" height="26.6" fill="#1e90ff"/>
<rect x="805.69" y="346.0" width="2.4" height="19.5" fill="#1e90ff"/>
<rect x="809.67" y="323.3" width="1.05" height="27.1" fill="#1e90ff"/>
<rect x="809.00" y="324.0" width="2.4" height="23.8" fill="#1e90ff"/>
<rect x="812.98" y="323.3" width="1.05" height="7.2" fill="#ff0000"/>
<rect x="812.30" y="325.2" width="2.4" height="3.1" fill="#ff0000"/>
<rect x="816.29" y="324.5" width="1.05" height="17.0" fill="#ff0000"/>
<rect x="815.61" y="325.2" width="2.4" height="14.5" fill="#ff0000"/>
<rect x="819.60" y="330.3" width="1.05" height="13.2" fill="#ff0000"/>
<rect x="818.92" y="336.6" width="2.4" height="5.0" fill="#ff0000"/>
<rect x="822.91" y="323.4" width="1.05" height="27.0" fill="#1e90ff"/>
<rect x="822.23" y="330.3" width="2.4" height="9.4" fill="#1e90ff"/>
<rect x="826.22" y="305.1" width="1.05" height="27.2" fill="#1e90ff"/>
<rect x="825.54" y="307.6" width="2.4" height="24.6" fill="#1e90ff"/>
<rect x="829.52" y="303.2" width="1.05" height="11.3" fill="#ff0000"/>
<rect x="828.85" y="304.5" width="2.4" height="8.2" fill="#ff0000"/>
<rect x="832.83" y="312.0" width="1.05" height="12.0" fill="#ff0000"/>
<rect x="832.16" y="314.5" width="2.4" height="4.5" fill="#ff0000"/>
<rect x="836.14" y="310.1" width="1.05" height="13.9" fill="#1e90ff"/>
<rect x="835.47" y="316.4" width="2.4" height="1.3" fill="#1e90ff"/>
<rect x="839.45" y="305.1" width="1.05" height="16.4" fill="#1e90ff"/>
<rect x="838.78" y="313.9" width="2.4" height="1.3" fill="#1e90ff"/>
<rect x="842.76" y="310.1" width="1.05" height="18.3" fill="#ff0000"/>
<rect x="842.09" y="312.0" width="2.4" height="5.7" fill="#ff0000"/>
<rect x="846.07" y="307.6" width="1.05" height="11.4" fill="#1e90ff"/>
<rect x="845.39" y="313.9" width="2.4" height="1.3" fill="#1e90ff"/>
<rect x="849.38" y="298.8" width="1.05" height="20.2" fill="#1e90ff"/>
<rect x="848.70" y="303.8" width="2.4" height="13.9" fill="#1e90ff"/>
<rect x="852.69" y="298.8" width="1.05" height="15.7" fill="#ff0000"/>
<rect x="852.01" y="300.7" width="2.4" height="5.0" fill="#ff0000"/>
<rect x="856.00" y="303.2" width="1.05" height="11.3" fill="#ff0000"/>
<rect x="855.32" y="303.8" width="2.4" height="8.9" fill="#ff0000"/>
<rect x="859.31" y="307.6" width="1.05" height="27.1" fill="#ff0000"/>
<rect x="858.63" y="310.1" width="2.4" height="15.8" fill="#ff0000"/>
<rect x="862.62" y="317.1" width="1.05" height="11.3" fill="#1e90ff"/>
<rect x="861.94" y="319.0" width="2.4" height="5.0" fill="#1e90ff"/>
</g>
<g fill="#585858">
<rect x="1.70" y="464.0" width="2.2" height="22.0"/>
<rect x="5.01" y="464.0" width="2.2" height="20.0"/>
<rect x="8.32" y="464.0" width="2.2" height="19.0"/>
<rect x="11.63" y="464.0" width="2.2" height="21.4"/>
<rect x="14.94" y="464.0" width="2.2" height="19.0"/>
<rect x="18.25" y="464.0" width="2.2" height="18.0"/>
<rect x="21.55" y="464.0" width="2.2" height="17.6"/>
<rect x="24.86" y="464.0" width="2.2" height="17.6"/>
<rect x="28.17" y="464.0" width="2.2" height="20.0"/>
<rect x="31.48" y="464.0" width="2.2" height="17.0"/>
<rect x="34.79" y="464.0" width="2.2" height="9.0"/>
<rect x="38.10" y="464.0" width="2.2" height="5.0"/>
<rect x="41.41" y="464.0" width="2.2" height="1.0"/>
<rect x="44.72" y="464.0" width="2.2" height="1.5"/>
<rect x="48.03" y="464.0" width="2.2" height="7.0"/>
<rect x="51.34" y="464.0" width="2.2" height="5.0"/>
<rect x="54.64" y="464.0" width="2.2" height="5.0"/>
<rect x="57.95" y="464.0" width="2.2" height="9.6"/>
<rect x="61.26" y="464.0" width="2.2" height="14.0"/>
<rect x="64.57" y="464.0" width="2.2" height="19.0"/>
<rect x="67.88" y="464.0" width="2.2" height="29.0"/>
<rect x="71.19" y="464.0" width="2.2" height="34.0"/>
<rect x="74.50" y="464.0" width="2.2" height="38.6"/>
<rect x="77.81" y="464.0" width="2.2" height="42.0"/>
<rect x="81.12" y="464.0" width="2.2" height="45.0"/>
<rect x="84.43" y="464.0" width="2.2" height="40.0"/>
<rect x="87.73" y="464.0" width="2.2" height="32.0"/>
<rect x="91.04" y="464.0" width="2.2" height="28.0"/>
<rect x="94.35" y="464.0" width="2.2" height="27.0"/>
<rect x="97.66" y="464.0" width="2.2" height="25.0"/>
<rect x="100.97" y="464.0" width="2.2" height="22.0"/>
<rect x="104.28" y="464.0" width="2.2" height="18.0"/>
<rect x="107.59" y="464.0" width="2.2" height="21.0"/>
<rect x="110.90" y="464.0" width="2.2" height="23.4"/>
<rect x="114.21" y="464.0" width="2.2" height="21.0"/>
<rect x="117.52" y="464.0" width="2.2" height="20.0"/>
<rect x="120.82" y="464.0" width="2.2" height="19.0"/>
<rect x="124.13" y="464.0" width="2.2" height="15.0"/>
<rect x="127.44" y="464.0" width="2.2" height="9.0"/>
<rect x="130.75" y="464.0" width="2.2" height="5.4"/>
<rect x="134.06" y="464.0" width="2.2" height="2.0"/>
<rect x="137.37" y="462.0" width="2.2" height="2.0"/>
<rect x="140.68" y="453.4" width="2.2" height="10.6"/>
<rect x="143.99" y="453.4" width="2.2" height="10.6"/>
<rect x="147.30" y="449.4" width="2.2" height="14.6"/>
<rect x="150.61" y="454.0" width="2.2" height="10.0"/>
<rect x="153.91" y="444.4" width="2.2" height="19.6"/>
<rect x="157.22" y="430.4" width="2.2" height="33.6"/>
<rect x="160.53" y="429.6" width="2.2" height="34.4"/>
<rect x="163.84" y="429.0" width="2.2" height="35.0"/>
<rect x="167.15" y="436.0" width="2.2" height="28.0"/>
<rect x="170.46" y="437.0" width="2.2" height="27.0"/>
<rect x="173.77" y="432.0" width="2.2" height="32.0"/>
<rect x="177.08" y="432.0" width="2.2" height="32.0"/>
<rect x="180.39" y="432.0" width="2.2" height="32.0"/>
<rect x="183.70" y="434.0" width="2.2" height="30.0"/>
<rect x="187.00" y="433.0" width="2.2" height="31.0"/>
<rect x="190.31" y="435.0" width="2.2" height="29.0"/>
<rect x="193.62" y="437.0" width="2.2" height="27.0"/>
<rect x="196.93" y="438.5" width="2.2" height="25.5"/>
<rect x="200.24" y="440.0" width="2.2" height="24.0"/>
<rect x="203.55" y="442.0" width="2.2" height="22.0"/>
<rect x="206.86" y="444.0" width="2.2" height="20.0"/>
<rect x="210.17" y="442.0" width="2.2" height="22.0"/>
<rect x="213.48" y="436.0" width="2.2" height="28.0"/>
<rect x="216.79" y="431.0" width="2.2" height="33.0"/>
<rect x="220.09" y="428.0" width="2.2" height="36.0"/>
<rect x="223.40" y="421.0" width="2.2" height="43.0"/>
<rect x="226.71" y="418.6" width="2.2" height="45.4"/>
<rect x="230.02" y="419.4" width="2.2" height="44.6"/>
<rect x="233.33" y="425.0" width="2.2" height="39.0"/>
<rect x="236.64" y="435.0" width="2.2" height="29.0"/>
<rect x="239.95" y="441.0" width="2.2" height="23.0"/>
<rect x="243.26" y="443.4" width="2.2" height="20.6"/>
<rect x="246.57" y="446.0" width="2.2" height="18.0"/>
<rect x="249.88" y="448.0" width="2.2" height="16.0"/>
<rect x="253.18" y="450.0" width="2.2" height="14.0"/>
<rect x="256.49" y="448.0" width="2.2" height="16.0"/>
<rect x="259.80" y="446.0" width="2.2" height="18.0"/>
<rect x="263.11" y="445.0" width="2.2" height="19.0"/>
<rect x="266.42" y="451.0" width="2.2" height="13.0"/>
<rect x="269.73" y="454.0" width="2.2" height="10.0"/>
<rect x="273.04" y="461.0" width="2.2" height="3.0"/>
<rect x="276.35" y="464.0" width="2.2" height="11.0"/>
<rect x="279.66" y="464.0" width="2.2" height="16.0"/>
<rect x="282.96" y="464.0" width="2.2" height="18.0"/>
<rect x="286.27" y="464.0" width="2.2" height="20.6"/>
<rect x="289.58" y="464.0" width="2.2" height="19.4"/>
<rect x="292.89" y="464.0" width="2.2" height="14.0"/>
<rect x="296.20" y="464.0" width="2.2" height="10.0"/>
<rect x="299.51" y="464.0" width="2.2" height="2.0"/>
<rect x="302.82" y="461.0" width="2.2" height="3.0"/>
<rect x="306.13" y="462.6" width="2.2" height="1.4"/>
<rect x="309.44" y="464.0" width="2.2" height="12.0"/>
<rect x="312.75" y="464.0" width="2.2" height="20.0"/>
<rect x="316.06" y="464.0" width="2.2" height="35.0"/>
<rect x="319.36" y="464.0" width="2.2" height="43.0"/>
<rect x="322.67" y="464.0" width="2.2" height="47.0"/>
<rect x="325.98" y="464.0" width="2.2" height="50.0"/>
<rect x="329.29" y="464.0" width="2.2" height="51.6"/>
<rect x="332.60" y="464.0" width="2.2" height="45.0"/>
<rect x="335.91" y="464.0" width="2.2" height="39.0"/>
<rect x="339.22" y="464.0" width="2.2" height="37.0"/>
<rect x="342.53" y="464.0" width="2.2" height="32.0"/>
<rect x="345.84" y="464.0" width="2.2" height="30.0"/>
<rect x="349.14" y="464.0" width="2.2" height="30.0"/>
<rect x="352.45" y="464.0" width="2.2" height="29.0"/>
<rect x="355.76" y="464.0" width="2.2" height="26.0"/>
<rect x="359.07" y="464.0" width="2.2" height="21.0"/>
<rect x="362.38" y="464.0" width="2.2" height="18.0"/>
<rect x="365.69" y="464.0" width="2.2" height="20.0"/>
<rect x="369.00" y="464.0" width="2.2" height="20.0"/>
<rect x="372.31" y="464.0" width="2.2" height="20.0"/>
<rect x="375.62" y="464.0" width="2.2" height="21.0"/>
<rect x="378.93" y="464.0" width="2.2" height="18.0"/>
<rect x="382.24" y="464.0" width="2.2" height="16.0"/>
<rect x="385.54" y="464.0" width="2.2" height="11.0"/>
<rect x="388.85" y="464.0" width="2.2" height="7.0"/>
<rect x="392.16" y="464.0" width="2.2" height="5.5"/>
<rect x="395.47" y="464.0" width="2.2" height="4.6"/>
<rect x="398.78" y="464.0" width="2.2" height="3.4"/>
<rect x="402.09" y="464.0" width="2.2" height="4.0"/>
<rect x="405.40" y="464.0" width="2.2" height="5.4"/>
<rect x="408.71" y="464.0" width="2.2" height="4.0"/>
<rect x="412.02" y="464.0" width="2.2" height="2.0"/>
<rect x="415.32" y="463.0" width="2.2" height="1.0"/>
<rect x="418.63" y="462.0" width="2.2" height="2.0"/>
<rect x="421.94" y="461.0" width="2.2" height="3.0"/>
<rect x="425.25" y="462.0" width="2.2" height="2.0"/>
<rect x="428.56" y="460.0" width="2.2" height="4.0"/>
<rect x="431.87" y="458.0" width="2.2" height="6.0"/>
<rect x="435.18" y="455.0" width="2.2" height="9.0"/>
<rect x="438.49" y="456.0" width="2.2" height="8.0"/>
<rect x="441.80" y="455.0" width="2.2" height="9.0"/>
<rect x="445.11" y="451.0" width="2.2" height="13.0"/>
<rect x="448.42" y="446.0" width="2.2" height="18.0"/>
<rect x="451.72" y="444.0" width="2.2" height="20.0"/>
<rect x="455.03" y="443.0" width="2.2" height="21.0"/>
<rect x="458.34" y="443.0" width="2.2" height="21.0"/>
<rect x="461.65" y="439.4" width="2.2" height="24.6"/>
<rect x="464.96" y="441.0" width="2.2" height="23.0"/>
<rect x="468.27" y="424.0" width="2.2" height="40.0"/>
<rect x="471.58" y="413.0" width="2.2" height="51.0"/>
<rect x="474.89" y="439.4" width="2.2" height="24.6"/>
<rect x="478.20" y="452.0" width="2.2" height="12.0"/>
<rect x="481.50" y="460.0" width="2.2" height="4.0"/>
<rect x="484.81" y="464.0" width="2.2" height="9.9"/>
<rect x="488.12" y="464.0" width="2.2" height="14.3"/>
<rect x="491.43" y="464.0" width="2.2" height="19.3"/>
<rect x="494.74" y="464.0" width="2.2" height="24.4"/>
<rect x="498.05" y="464.0" width="2.2" height="25.7"/>
<rect x="501.36" y="464.0" width="2.2" height="25.0"/>
<rect x="504.67" y="464.0" width="2.2" height="31.5"/>
<rect x="507.98" y="464.0" width="2.2" height="48.4"/>
<rect x="511.29" y="464.0" width="2.2" height="56.4"/>
<rect x="514.59" y="464.0" width="2.2" height="58.2"/>
<rect x="517.90" y="464.0" width="2.2" height="60.1"/>
<rect x="521.21" y="464.0" width="2.2" height="56.4"/>
<rect x="524.52" y="464.0" width="2.2" height="50.7"/>
<rect x="527.83" y="464.0" width="2.2" height="43.5"/>
<rect x="531.14" y="464.0" width="2.2" height="45.0"/>
<rect x="534.45" y="464.0" width="2.2" height="45.0"/>
<rect x="537.76" y="464.0" width="2.2" height="40.7"/>
<rect x="541.07" y="464.0" width="2.2" height="39.5"/>
<rect x="544.38" y="464.0" width="2.2" height="40.5"/>
<rect x="547.68" y="464.0" width="2.2" height="31.2"/>
<rect x="550.99" y="464.0" width="2.2" height="22.6"/>
<rect x="554.30" y="464.0" width="2.2" height="19.5"/>
<rect x="557.61" y="464.0" width="2.2" height="16.5"/>
<rect x="560.92" y="464.0" width="2.2" height="13.4"/>
<rect x="564.23" y="464.0" width="2.2" height="9.5"/>
<rect x="567.54" y="464.0" width="2.2" height="6.0"/>
<rect x="570.85" y="464.0" width="2.2" height="4.0"/>
<rect x="574.16" y="464.0" width="2.2" height="2.0"/>
<rect x="577.47" y="464.0" width="2.2" height="0.8"/>
<rect x="580.77" y="463.4" width="2.2" height="0.8"/>
<rect x="584.08" y="463.4" width="2.2" height="0.8"/>
<rect x="587.39" y="464.0" width="2.2" height="1.0"/>
<rect x="590.70" y="464.0" width="2.2" height="5.4"/>
<rect x="594.01" y="464.0" width="2.2" height="9.0"/>
<rect x="597.32" y="464.0" width="2.2" height="11.4"/>
<rect x="600.63" y="464.0" width="2.2" height="13.0"/>
<rect x="603.94" y="464.0" width="2.2" height="14.1"/>
<rect x="607.25" y="464.0" width="2.2" height="16.0"/>
<rect x="610.56" y="464.0" width="2.2" height="17.8"/>
<rect x="613.87" y="464.0" width="2.2" height="23.0"/>
<rect x="617.17" y="464.0" width="2.2" height="31.1"/>
<rect x="620.48" y="464.0" width="2.2" height="38.8"/>
<rect x="623.79" y="464.0" width="2.2" height="52.6"/>
<rect x="627.10" y="464.0" width="2.2" height="60.8"/>
<rect x="630.41" y="464.0" width="2.2" height="68.3"/>
<rect x="633.72" y="464.0" width="2.2" height="70.2"/>
<rect x="637.03" y="464.0" width="2.2" height="70.2"/>
<rect x="640.34" y="464.0" width="2.2" height="70.8"/>
<rect x="643.65" y="464.0" width="2.2" height="68.3"/>
<rect x="646.95" y="464.0" width="2.2" height="63.3"/>
<rect x="650.26" y="464.0" width="2.2" height="54.5"/>
<rect x="653.57" y="464.0" width="2.2" height="44.2"/>
<rect x="656.88" y="464.0" width="2.2" height="40.4"/>
<rect x="660.19" y="464.0" width="2.2" height="33.5"/>
<rect x="663.50" y="464.0" width="2.2" height="35.8"/>
<rect x="666.81" y="464.0" width="2.2" height="38.5"/>
<rect x="670.12" y="464.0" width="2.2" height="39.0"/>
<rect x="673.43" y="464.0" width="2.2" height="37.5"/>
<rect x="676.74" y="464.0" width="2.2" height="39.0"/>
<rect x="680.04" y="464.0" width="2.2" height="45.5"/>
<rect x="683.35" y="464.0" width="2.2" height="47.7"/>
<rect x="686.66" y="464.0" width="2.2" height="44.2"/>
<rect x="689.97" y="464.0" width="2.2" height="40.5"/>
<rect x="693.28" y="464.0" width="2.2" height="39.7"/>
<rect x="696.59" y="464.0" width="2.2" height="36.9"/>
<rect x="699.90" y="464.0" width="2.2" height="28.0"/>
<rect x="703.21" y="464.0" width="2.2" height="11.6"/>
<rect x="706.52" y="462.4" width="2.2" height="1.6"/>
<rect x="709.83" y="463.5" width="2.2" height="0.8"/>
<rect x="713.13" y="464.0" width="2.2" height="0.8"/>
<rect x="716.44" y="464.0" width="2.2" height="0.8"/>
<rect x="719.75" y="464.0" width="2.2" height="3.0"/>
<rect x="723.06" y="462.0" width="2.2" height="2.0"/>
<rect x="726.37" y="452.0" width="2.2" height="12.0"/>
<rect x="729.68" y="445.6" width="2.2" height="18.4"/>
<rect x="732.99" y="444.6" width="2.2" height="19.4"/>
<rect x="736.30" y="444.0" width="2.2" height="20.0"/>
<rect x="739.61" y="444.0" width="2.2" height="20.0"/>
<rect x="742.92" y="442.0" width="2.2" height="22.0"/>
<rect x="746.23" y="447.0" width="2.2" height="17.0"/>
<rect x="749.53" y="447.0" width="2.2" height="17.0"/>
<rect x="752.84" y="448.6" width="2.2" height="15.4"/>
<rect x="756.15" y="452.0" width="2.2" height="12.0"/>
<rect x="759.46" y="456.0" width="2.2" height="8.0"/>
<rect x="762.77" y="460.6" width="2.2" height="3.4"/>
<rect x="766.08" y="460.6" width="2.2" height="3.4"/>
<rect x="769.39" y="460.6" width="2.2" height="3.4"/>
<rect x="772.70" y="461.0" width="2.2" height="3.0"/>
<rect x="776.01" y="463.4" width="2.2" height="0.8"/>
<rect x="779.31" y="464.0" width="2.2" height="1.8"/>
<rect x="782.62" y="464.0" width="2.2" height="2.8"/>
<rect x="785.93" y="464.0" width="2.2" height="2.6"/>
<rect x="789.24" y="464.0" width="2.2" height="12.0"/>
<rect x="792.55" y="464.0" width="2.2" height="16.0"/>
<rect x="795.86" y="464.0" width="2.2" height="19.0"/>
<rect x="799.17" y="464.0" width="2.2" height="23.4"/>
<rect x="802.48" y="464.0" width="2.2" height="31.0"/>
<rect x="805.79" y="464.0" width="2.2" height="31.0"/>
<rect x="809.10" y="464.0" width="2.2" height="25.0"/>
<rect x="812.40" y="464.0" width="2.2" height="22.0"/>
<rect x="815.71" y="464.0" width="2.2" height="21.0"/>
<rect x="819.02" y="464.0" width="2.2" height="22.0"/>
<rect x="822.33" y="464.0" width="2.2" height="18.0"/>
<rect x="825.64" y="464.0" width="2.2" height="11.0"/>
<rect x="828.95" y="464.0" width="2.2" height="6.6"/>
<rect x="832.26" y="464.0" width="2.2" height="4.6"/>
<rect x="835.57" y="464.0" width="2.2" height="3.0"/>
<rect x="838.88" y="464.0" width="2.2" height="2.0"/>
<rect x="842.19" y="464.0" width="2.2" height="2.0"/>
<rect x="845.50" y="464.0" width="2.2" height="1.0"/>
<rect x="848.80" y="461.6" width="2.2" height="2.4"/>
<rect x="852.11" y="460.6" width="2.2" height="3.4"/>
<rect x="855.42" y="461.6" width="2.2" height="2.4"/>
<rect x="858.73" y="464.0" width="2.2" height="1.0"/>
<rect x="862.04" y="464.0" width="2.2" height="1.6"/>
</g>
<path d="M2.90 474.10 C4.65 475.60 10.48 481.93 13.40 483.10 C16.32 484.27 17.57 481.27 20.40 481.10 C23.23 480.93 27.73 482.43 30.40 482.10 C33.07 481.77 34.23 480.60 36.40 479.10 C38.57 477.60 41.23 474.77 43.40 473.10 C45.57 471.43 47.23 469.93 49.40 469.10 C51.57 468.27 54.23 467.43 56.40 468.10 C58.57 468.77 60.23 470.27 62.40 473.10 C64.57 475.93 67.07 481.43 69.40 485.10 C71.73 488.77 74.23 492.27 76.40 495.10 C78.57 497.93 80.73 500.60 82.40 502.10 C84.07 503.60 84.73 504.43 86.40 504.10 C88.07 503.77 90.23 502.10 92.40 500.10 C94.57 498.10 97.07 494.27 99.40 492.10 C101.73 489.93 104.23 488.17 106.40 487.10 C108.57 486.03 110.07 486.10 112.40 485.70 C114.73 485.30 118.23 485.13 120.40 484.70 C122.57 484.27 123.40 484.70 125.40 483.10 C127.40 481.50 129.90 478.10 132.40 475.10 C134.90 472.10 137.73 468.10 140.40 465.10 C143.07 462.10 145.90 459.60 148.40 457.10 C150.90 454.60 153.07 452.93 155.40 450.10 C157.73 447.27 160.23 442.83 162.40 440.10 C164.57 437.37 166.73 435.03 168.40 433.70 C170.07 432.37 170.40 432.03 172.40 432.10 C174.40 432.17 177.73 434.00 180.40 434.10 C183.07 434.20 185.90 432.70 188.40 432.70 C190.90 432.70 192.90 433.20 195.40 434.10 C197.90 435.00 200.73 436.77 203.40 438.10 C206.07 439.43 208.73 442.27 211.40 442.10 C214.07 441.93 216.73 439.43 219.40 437.10 C222.07 434.77 225.07 430.37 227.40 428.10 C229.73 425.83 231.73 424.17 233.40 423.50 C235.07 422.83 235.73 422.83 237.40 424.10 C239.07 425.37 241.40 428.60 243.40 431.10 C245.40 433.60 247.40 436.77 249.40 439.10 C251.40 441.43 253.57 443.70 255.40 445.10 C257.23 446.50 258.90 447.10 260.40 447.50 C261.90 447.90 262.40 446.90 264.40 447.50 C266.40 448.10 270.40 449.83 272.40 451.10 C274.40 452.37 275.23 453.10 276.40 455.10 C277.57 457.10 278.07 460.10 279.40 463.10 C280.73 466.10 282.73 470.27 284.40 473.10 C286.07 475.93 287.90 478.60 289.40 480.10 C290.90 481.60 291.73 482.27 293.40 482.10 C295.07 481.93 297.57 480.60 299.40 479.10 C301.23 477.60 302.73 475.10 304.40 473.10 C306.07 471.10 307.90 467.60 309.40 467.10 C310.90 466.60 312.07 467.93 313.40 470.10 C314.73 472.27 315.73 476.10 317.40 480.10 C319.07 484.10 321.57 489.93 323.40 494.10 C325.23 498.27 326.73 502.27 328.40 505.10 C330.07 507.93 331.73 510.60 333.40 511.10 C335.07 511.60 336.73 509.27 338.40 508.10 C340.07 506.93 341.23 506.10 343.40 504.10 C345.57 502.10 348.73 498.43 351.40 496.10 C354.07 493.77 356.73 491.93 359.40 490.10 C362.07 488.27 365.23 486.17 367.40 485.10 C369.57 484.03 370.73 483.77 372.40 483.70 C374.07 483.63 375.57 484.97 377.40 484.70 C379.23 484.43 381.40 483.03 383.40 482.10 C385.40 481.17 386.90 480.93 389.40 479.10 C391.90 477.27 395.57 472.93 398.40 471.10 C401.23 469.27 403.73 468.93 406.40 468.10 C409.07 467.27 411.57 466.77 414.40 466.10 C417.23 465.43 420.73 464.77 423.40 464.10 C426.07 463.43 427.90 463.10 430.40 462.10 C432.90 461.10 435.73 459.60 438.40 458.10 C441.07 456.60 443.73 454.77 446.40 453.10 C449.07 451.43 451.73 449.60 454.40 448.10 C457.07 446.60 460.23 445.27 462.40 444.10 C464.57 442.93 465.90 442.60 467.40 441.10 C468.90 439.60 469.90 436.60 471.40 435.10 C472.90 433.60 474.73 431.93 476.40 432.10 C478.07 432.27 479.90 434.10 481.40 436.10 C482.90 438.10 484.07 440.43 485.40 444.10 C486.73 447.77 487.90 453.43 489.40 458.10 C490.90 462.77 492.73 468.10 494.40 472.10 C496.07 476.10 497.57 479.27 499.40 482.10 C501.23 484.93 503.32 486.27 505.40 489.10 C507.48 491.93 509.73 495.35 511.90 499.10 C514.07 502.85 516.42 508.03 518.40 511.60 C520.38 515.17 522.13 519.33 523.80 520.50 C525.47 521.67 526.63 519.87 528.40 518.60 C530.17 517.33 532.33 514.68 534.40 512.90 C536.47 511.12 538.88 509.05 540.80 507.90 C542.72 506.75 544.30 506.97 545.90 506.00 C547.50 505.03 548.73 504.00 550.40 502.10 C552.07 500.20 553.90 497.43 555.90 494.60 C557.90 491.77 560.32 487.92 562.40 485.10 C564.48 482.28 566.40 479.95 568.40 477.70 C570.40 475.45 572.73 473.20 574.40 471.60 C576.07 470.00 576.90 469.12 578.40 468.10 C579.90 467.08 581.73 466.03 583.40 465.50 C585.07 464.97 587.07 464.80 588.40 464.90 C589.73 465.00 589.90 465.40 591.40 466.10 C592.90 466.80 594.85 467.48 597.40 469.10 C599.95 470.72 604.10 474.07 606.70 475.80 C609.30 477.53 610.88 477.72 613.00 479.50 C615.12 481.28 617.30 483.55 619.40 486.50 C621.50 489.45 623.73 493.22 625.60 497.20 C627.47 501.18 629.03 506.32 630.60 510.40 C632.17 514.48 633.53 518.55 635.00 521.70 C636.47 524.85 637.82 527.52 639.40 529.30 C640.98 531.08 642.82 532.20 644.50 532.40 C646.18 532.60 647.83 531.75 649.50 530.50 C651.17 529.25 653.03 527.00 654.50 524.90 C655.97 522.80 657.03 520.32 658.30 517.90 C659.57 515.48 660.63 512.80 662.10 510.40 C663.57 508.00 665.53 504.97 667.10 503.50 C668.67 502.03 670.03 501.92 671.50 501.60 C672.97 501.28 674.32 501.18 675.90 501.60 C677.48 502.02 679.10 503.27 681.00 504.10 C682.90 504.93 685.42 506.08 687.30 506.60 C689.18 507.12 690.62 507.33 692.30 507.20 C693.98 507.07 695.72 506.98 697.40 505.80 C699.08 504.62 700.73 502.97 702.40 500.10 C704.07 497.23 705.90 491.93 707.40 488.60 C708.90 485.27 710.13 482.93 711.40 480.10 C712.67 477.27 714.00 473.85 715.00 471.60 C716.00 469.35 716.17 467.85 717.40 466.60 C718.63 465.35 720.73 464.85 722.40 464.10 C724.07 463.35 725.73 463.60 727.40 462.10 C729.07 460.60 730.73 457.43 732.40 455.10 C734.07 452.77 735.57 449.93 737.40 448.10 C739.23 446.27 741.40 444.77 743.40 444.10 C745.40 443.43 747.40 443.77 749.40 444.10 C751.40 444.43 753.40 444.93 755.40 446.10 C757.40 447.27 759.40 449.43 761.40 451.10 C763.40 452.77 765.40 454.77 767.40 456.10 C769.40 457.43 771.57 458.10 773.40 459.10 C775.23 460.10 776.90 461.27 778.40 462.10 C779.90 462.93 780.73 463.43 782.40 464.10 C784.07 464.77 786.40 464.77 788.40 466.10 C790.40 467.43 792.40 469.77 794.40 472.10 C796.40 474.43 798.40 477.77 800.40 480.10 C802.40 482.43 804.57 484.53 806.40 486.10 C808.23 487.67 809.57 488.93 811.40 489.50 C813.23 490.07 815.40 490.23 817.40 489.50 C819.40 488.77 821.40 486.83 823.40 485.10 C825.40 483.37 827.40 480.93 829.40 479.10 C831.40 477.27 833.40 475.77 835.40 474.10 C837.40 472.43 839.40 470.43 841.40 469.10 C843.40 467.77 845.57 466.93 847.40 466.10 C849.23 465.27 850.57 464.77 852.40 464.10 C854.23 463.43 856.57 462.27 858.40 462.10 C860.23 461.93 862.57 462.93 863.40 463.10" fill="none" stroke="#ff1515" stroke-width="0.92" stroke-dasharray="3.3 2.3"/>
<rect x="1.0" y="1.0" width="967" height="2.0" fill="#9a9a9a"/>
<rect x="1.35" y="1.35" width="966.65" height="1.6" fill="#565656"/>
<rect x="1.0" y="1.0" width="2.0" height="540.9" fill="#9a9a9a"/>
<rect x="1.35" y="1.35" width="1.6" height="540.5" fill="#565656"/>
<rect x="966.97" y="1.5" width="1.08" height="540.4" fill="#2b2b2b"/>
<rect x="1.5" y="540.87" width="966.8" height="1.07" fill="#2b2b2b"/>
<rect x="1.8" y="181.3" width="1.3" height="49.2" fill="#0b3d91"/>
<rect x="968" y="58.18" width="1.5" height="1" fill="#2b2b2b"/>
<text transform="translate(972.20 61.08) scale(1 1.22)" xml:space="preserve">102.85</text>
<rect x="968" y="91.55" width="1.5" height="1" fill="#2b2b2b"/>
<text transform="translate(972.20 94.45) scale(1 1.22)" xml:space="preserve">102.70</text>
<rect x="968" y="124.93" width="1.5" height="1" fill="#2b2b2b"/>
<text transform="translate(972.20 127.83) scale(1 1.22)" xml:space="preserve">102.55</text>
<rect x="968" y="158.30" width="1.5" height="1" fill="#2b2b2b"/>
<text transform="translate(972.20 161.20) scale(1 1.22)" xml:space="preserve">102.40</text>
<rect x="968" y="191.68" width="1.5" height="1" fill="#2b2b2b"/>
<text transform="translate(972.20 194.58) scale(1 1.22)" xml:space="preserve">102.25</text>
<rect x="968" y="225.05" width="1.5" height="1" fill="#2b2b2b"/>
<text transform="translate(972.20 227.95) scale(1 1.22)" xml:space="preserve">102.10</text>
<rect x="968" y="291.80" width="1.5" height="1" fill="#2b2b2b"/>
<text transform="translate(972.20 294.70) scale(1 1.22)" xml:space="preserve">101.80</text>
<rect x="968" y="325.17" width="1.5" height="1" fill="#2b2b2b"/>
<text transform="translate(972.20 328.07) scale(1 1.22)" xml:space="preserve">101.65</text>
<rect x="968" y="358.55" width="1.5" height="1" fill="#2b2b2b"/>
<text transform="translate(972.20 361.45) scale(1 1.22)" xml:space="preserve">101.50</text>
<rect x="968" y="391.93" width="1.5" height="1" fill="#2b2b2b"/>
<text transform="translate(972.20 394.83) scale(1 1.22)" xml:space="preserve">101.35</text>
<text transform="translate(970.20 414.70) scale(1 1.22)" xml:space="preserve">0.264</text>
<text transform="translate(970.20 466.90) scale(1 1.22)" xml:space="preserve">0.00</text>
<text transform="translate(970.20 538.90) scale(1 1.22)" xml:space="preserve">-0.347</text>
<rect x="968" y="463.5" width="1.5" height="1" fill="#2b2b2b"/>
<rect x="968" y="406.4" width="1.5" height="1" fill="#2b2b2b"/>
<rect x="968.6" y="20.40" width="29.5" height="8.5" fill="#ff0000"/>
<text transform="translate(972.20 27.70) scale(1 1.22)" xml:space="preserve" style="fill:#fff;stroke:#fff">103.00</text>
<rect x="968.6" y="76.40" width="29.5" height="8.5" fill="#ff0000"/>
<text transform="translate(972.20 83.70) scale(1 1.22)" xml:space="preserve" style="fill:#fff;stroke:#fff">102.75</text>
<rect x="968.6" y="198.90" width="29.5" height="8.5" fill="#ff0000"/>
<text transform="translate(972.20 206.20) scale(1 1.22)" xml:space="preserve" style="fill:#fff;stroke:#fff">102.20</text>
<rect x="968.6" y="252.80" width="29.5" height="8.5" fill="#ff0000"/>
<text transform="translate(972.20 260.10) scale(1 1.22)" xml:space="preserve" style="fill:#fff;stroke:#fff">101.96</text>
<rect x="968.6" y="376.40" width="29.5" height="8.5" fill="#ff0000"/>
<text transform="translate(972.20 383.70) scale(1 1.22)" xml:space="preserve" style="fill:#fff;stroke:#fff">101.40</text>
<rect x="968.6" y="313.70" width="29.5" height="8.5" fill="#000000"/>
<text transform="translate(972.20 321.00) scale(1 1.22)" xml:space="preserve" style="fill:#fff;stroke:#fff">101.68</text>
<path d="M4.8 7.4 L10.8 7.4 L7.8 10.9 Z" fill="#111"/>
<text transform="translate(15.00 11.60) scale(1 1.22)" xml:space="preserve" textLength="41.9" lengthAdjust="spacingAndGlyphs">USDJPY,H1</text>
<text transform="translate(62.70 11.60) scale(1 1.22)" xml:space="preserve" textLength="99.5" lengthAdjust="spacingAndGlyphs">101.66 101.69 101.64 101.68</text>
<text transform="translate(5.80 416.00) scale(1 1.22)" xml:space="preserve" textLength="96" lengthAdjust="spacingAndGlyphs">MACD(5,34,5) -0.005 0.010</text>
<text transform="translate(6.00 537.60) scale(1 1.22)" xml:space="preserve" textLength="204" lengthAdjust="spacingAndGlyphs">MT4 TeleTrade, © 2001-2014, MetaQuotes Software Corp.</text>
<rect x="2.25" y="541.5" width="1.15" height="2.8" fill="#151515"/>
<text transform="translate(2.20 551.70) scale(1.028 1.22)" xml:space="preserve">24 Apr 2014</text>
<rect x="55.18" y="541.5" width="1.15" height="2.8" fill="#151515"/>
<text transform="translate(55.23 551.70) scale(1.028 1.22)" xml:space="preserve">25 Apr 08:00</text>
<rect x="108.11" y="541.5" width="1.15" height="2.8" fill="#151515"/>
<text transform="translate(108.16 551.70) scale(1.028 1.22)" xml:space="preserve">28 Apr 01:00</text>
<rect x="161.04" y="541.5" width="1.15" height="2.8" fill="#151515"/>
<text transform="translate(161.09 551.70) scale(1.028 1.22)" xml:space="preserve">28 Apr 17:00</text>
<rect x="213.97" y="541.5" width="1.15" height="2.8" fill="#151515"/>
<text transform="translate(214.02 551.70) scale(1.028 1.22)" xml:space="preserve">29 Apr 09:00</text>
<rect x="266.90" y="541.5" width="1.15" height="2.8" fill="#151515"/>
<text transform="translate(266.95 551.70) scale(1.028 1.22)" xml:space="preserve">30 Apr 01:00</text>
<rect x="319.83" y="541.5" width="1.15" height="2.8" fill="#151515"/>
<text transform="translate(319.88 551.70) scale(1.028 1.22)" xml:space="preserve">30 Apr 17:00</text>
<rect x="372.76" y="541.5" width="1.15" height="2.8" fill="#151515"/>
<text transform="translate(372.81 551.70) scale(1.028 1.22)" xml:space="preserve">1 May 09:00</text>
<rect x="425.69" y="541.5" width="1.15" height="2.8" fill="#151515"/>
<text transform="translate(425.74 551.70) scale(1.028 1.22)" xml:space="preserve">2 May 01:00</text>
<rect x="478.62" y="541.5" width="1.15" height="2.8" fill="#151515"/>
<text transform="translate(478.67 551.70) scale(1.028 1.22)" xml:space="preserve">2 May 17:00</text>
<rect x="531.55" y="541.5" width="1.15" height="2.8" fill="#151515"/>
<text transform="translate(531.60 551.70) scale(1.028 1.22)" xml:space="preserve">5 May 10:00</text>
<rect x="584.48" y="541.5" width="1.15" height="2.8" fill="#151515"/>
<text transform="translate(584.53 551.70) scale(1.028 1.22)" xml:space="preserve">6 May 02:00</text>
<rect x="637.41" y="541.5" width="1.15" height="2.8" fill="#151515"/>
<text transform="translate(637.46 551.70) scale(1.028 1.22)" xml:space="preserve">6 May 18:00</text>
<rect x="690.34" y="541.5" width="1.15" height="2.8" fill="#151515"/>
<text transform="translate(690.39 551.70) scale(1.028 1.22)" xml:space="preserve">7 May 10:00</text>
<rect x="743.27" y="541.5" width="1.15" height="2.8" fill="#151515"/>
<text transform="translate(743.32 551.70) scale(1.028 1.22)" xml:space="preserve">8 May 02:00</text>
<rect x="796.20" y="541.5" width="1.15" height="2.8" fill="#151515"/>
<text transform="translate(796.25 551.70) scale(1.028 1.22)" xml:space="preserve">8 May 18:00</text>
<rect x="849.13" y="541.5" width="1.15" height="2.8" fill="#151515"/>
<text transform="translate(849.18 551.70) scale(1.028 1.22)" xml:space="preserve">9 May 10:00</text>
</svg></body></html>
